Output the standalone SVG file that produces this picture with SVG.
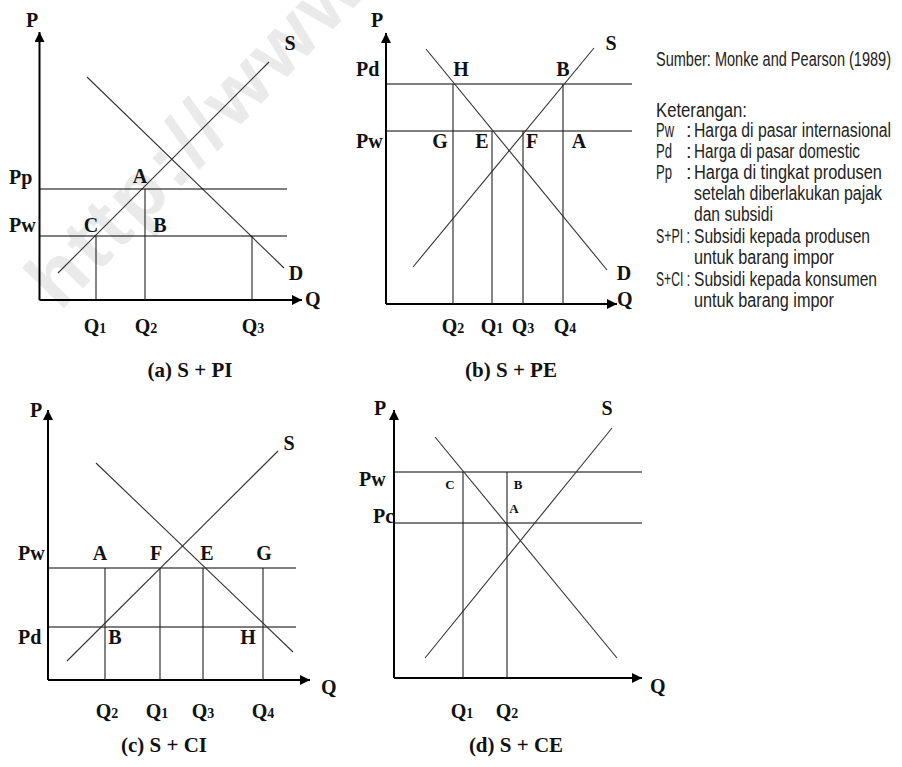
<svg xmlns="http://www.w3.org/2000/svg" width="902" height="767" viewBox="0 0 902 767">
<style>
.t{font-family:"Liberation Serif","Times New Roman",serif;font-weight:bold;font-size:20px;fill:#111}
.sub{font-size:14px}
.cap{font-size:21px}
.sm{font-size:13px}
.lg{font-family:"Liberation Sans",Arial,sans-serif;font-size:20px;fill:#222}
.ax{stroke:#000;stroke-width:2;fill:none}
.cv{stroke:#333;stroke-width:1.1;fill:none}
.hl{stroke:#000;stroke-width:1.2;fill:none}
.vl{stroke:#222;stroke-width:1.1;fill:none}
.wm{font-family:"Liberation Sans",Arial,sans-serif;font-weight:bold;font-size:80px;fill:#eaeaea;letter-spacing:4px}
</style>
<defs>
<marker id="arr" markerUnits="userSpaceOnUse" viewBox="0 0 10 10" refX="10" refY="5" markerWidth="11" markerHeight="10" orient="auto">
<path d="M0,0 L10,5 L0,10 z" fill="#000"/>
</marker>
</defs>
<rect width="902" height="767" fill="#fff"/>
<text class="wm" x="0" y="0" transform="translate(60,312) rotate(-46)">http://www</text>

<g id="panel-a">
<g id="a-connectors">
<path class="ax" d="M39.5,300 V32" marker-end="url(#arr)"/>
<path class="ax" d="M39.5,300 H302" marker-end="url(#arr)"/>
<path class="cv" d="M58,273 L269,62"/>
<path class="cv" d="M87,77 L284,268"/>
<path class="hl" d="M39.5,189 H287 M39.5,236 H287"/>
<path class="vl" d="M96,236 V300 M145,189 V300" stroke="#555"/>
<path class="vl" d="M252,236 V300"/>
</g>
<text class="t" x="32" y="27" text-anchor="middle">P</text>
<text class="t" x="290" y="50" text-anchor="middle">S</text>
<text class="t" x="296" y="280" text-anchor="middle">D</text>
<text class="t" x="305" y="306">Q</text>
<text class="t" x="9" y="184">Pp</text>
<text class="t" x="9" y="232">Pw</text>
<text class="t" x="140" y="183" text-anchor="middle">A</text>
<text class="t" x="91" y="232" text-anchor="middle">C</text>
<text class="t" x="160" y="232" text-anchor="middle">B</text>
<text class="t" x="95" y="333" text-anchor="middle">Q<tspan class="sub">1</tspan></text>
<text class="t" x="146" y="333" text-anchor="middle">Q<tspan class="sub">2</tspan></text>
<text class="t" x="253" y="333" text-anchor="middle">Q<tspan class="sub">3</tspan></text>
<text class="t cap" x="190" y="377" text-anchor="middle">(a) S + PI</text>
</g>

<g id="panel-b">
<g id="b-connectors">
<path class="ax" d="M386,304 V33" marker-end="url(#arr)"/>
<path class="ax" d="M386,304 H617" marker-end="url(#arr)"/>
<path class="hl" d="M386,84 H632 M386,131 H632"/>
<path class="cv" d="M413,267 L594,48"/>
<path class="cv" d="M426,49 L607,270"/>
<path class="vl" d="M453,84 V304 M492,131 V304 M523,131 V304 M563,84 V304"/>
</g>
<text class="t" x="377" y="27" text-anchor="middle">P</text>
<text class="t" x="356" y="76">Pd</text>
<text class="t" x="356" y="148">Pw</text>
<text class="t" x="461" y="76" text-anchor="middle">H</text>
<text class="t" x="563" y="76" text-anchor="middle">B</text>
<text class="t" x="440" y="148" text-anchor="middle">G</text>
<text class="t" x="482" y="148" text-anchor="middle">E</text>
<text class="t" x="532" y="148" text-anchor="middle">F</text>
<text class="t" x="579" y="148" text-anchor="middle">A</text>
<text class="t" x="611" y="50" text-anchor="middle">S</text>
<text class="t" x="624" y="280" text-anchor="middle">D</text>
<text class="t" x="617" y="306">Q</text>
<text class="t" x="453" y="333" text-anchor="middle">Q<tspan class="sub">2</tspan></text>
<text class="t" x="492" y="333" text-anchor="middle">Q<tspan class="sub">1</tspan></text>
<text class="t" x="523" y="333" text-anchor="middle">Q<tspan class="sub">3</tspan></text>
<text class="t" x="565" y="333" text-anchor="middle">Q<tspan class="sub">4</tspan></text>
<text class="t cap" x="511" y="377" text-anchor="middle">(b) S + PE</text>
</g>

<g id="legend">
<text class="lg" x="656" y="66" textLength="235" lengthAdjust="spacingAndGlyphs">Sumber: Monke and Pearson (1989)</text>
<text class="lg" x="656" y="117" textLength="91" lengthAdjust="spacingAndGlyphs">Keterangan:</text>
<text class="lg" x="656" y="137" textLength="18" lengthAdjust="spacingAndGlyphs">Pw</text>
<text class="lg" x="686" y="137">:</text>
<text class="lg" x="694" y="137" textLength="197" lengthAdjust="spacingAndGlyphs">Harga di pasar internasional</text>
<text class="lg" x="656" y="158" textLength="16" lengthAdjust="spacingAndGlyphs">Pd</text>
<text class="lg" x="686" y="158">:</text>
<text class="lg" x="694" y="158" textLength="166" lengthAdjust="spacingAndGlyphs">Harga di pasar domestic</text>
<text class="lg" x="656" y="179" textLength="16" lengthAdjust="spacingAndGlyphs">Pp</text>
<text class="lg" x="686" y="179">:</text>
<text class="lg" x="694" y="179" textLength="188" lengthAdjust="spacingAndGlyphs">Harga di tingkat produsen</text>
<text class="lg" x="694" y="200" textLength="188" lengthAdjust="spacingAndGlyphs">setelah diberlakukan pajak</text>
<text class="lg" x="694" y="221" textLength="79" lengthAdjust="spacingAndGlyphs">dan subsidi</text>
<text class="lg" x="656" y="243" textLength="34" lengthAdjust="spacingAndGlyphs">S+PI :</text>
<text class="lg" x="694" y="243" textLength="176" lengthAdjust="spacingAndGlyphs">Subsidi kepada produsen</text>
<text class="lg" x="694" y="264" textLength="140" lengthAdjust="spacingAndGlyphs">untuk barang impor</text>
<text class="lg" x="656" y="286" textLength="34" lengthAdjust="spacingAndGlyphs">S+CI :</text>
<text class="lg" x="694" y="286" textLength="183" lengthAdjust="spacingAndGlyphs">Subsidi kepada konsumen</text>
<text class="lg" x="694" y="307" textLength="140" lengthAdjust="spacingAndGlyphs">untuk barang impor</text>
</g>

<g id="panel-c">
<g id="c-connectors">
<path class="ax" d="M48,680 V410" marker-end="url(#arr)"/>
<path class="ax" d="M48,680 H310" marker-end="url(#arr)"/>
<path class="hl" d="M48,568 H296 M48,627 H296"/>
<path class="cv" d="M67,661 L278,451"/>
<path class="cv" d="M96,463 L293,652"/>
<path class="vl" d="M105,568 V680 M160,568 V680 M203,568 V680 M263,568 V680"/>
</g>
<text class="t" x="36" y="417" text-anchor="middle">P</text>
<text class="t" x="289" y="450" text-anchor="middle">S</text>
<text class="t" x="321" y="694">Q</text>
<text class="t" x="18" y="560">Pw</text>
<text class="t" x="18" y="644">Pd</text>
<text class="t" x="100" y="560" text-anchor="middle">A</text>
<text class="t" x="156" y="560" text-anchor="middle">F</text>
<text class="t" x="207" y="560" text-anchor="middle">E</text>
<text class="t" x="264" y="560" text-anchor="middle">G</text>
<text class="t" x="115" y="644" text-anchor="middle">B</text>
<text class="t" x="248" y="644" text-anchor="middle">H</text>
<text class="t" x="107" y="718" text-anchor="middle">Q<tspan class="sub">2</tspan></text>
<text class="t" x="157" y="718" text-anchor="middle">Q<tspan class="sub">1</tspan></text>
<text class="t" x="203" y="718" text-anchor="middle">Q<tspan class="sub">3</tspan></text>
<text class="t" x="263" y="718" text-anchor="middle">Q<tspan class="sub">4</tspan></text>
<text class="t cap" x="164" y="752" text-anchor="middle">(c) S + CI</text>
</g>

<g id="panel-d">
<g id="d-connectors">
<path class="ax" d="M394,678 V410" marker-end="url(#arr)"/>
<path class="ax" d="M394,678 H642" marker-end="url(#arr)"/>
<path class="hl" d="M394,472 H642 M394,523 H642"/>
<path class="cv" d="M425,658 L612,428"/>
<path class="cv" d="M435,437 L617,658"/>
<path class="vl" d="M463,472 V678 M507,472 V678"/>
</g>
<text class="t" x="380" y="415" text-anchor="middle">P</text>
<text class="t" x="607" y="415" text-anchor="middle">S</text>
<text class="t" x="650" y="693">Q</text>
<text class="t" x="359" y="486">Pw</text>
<text class="t" x="373" y="523">Pc</text>
<text class="t sm" x="450" y="489" text-anchor="middle">C</text>
<text class="t sm" x="518" y="489" text-anchor="middle">B</text>
<text class="t sm" x="514" y="513" text-anchor="middle">A</text>
<text class="t" x="462" y="718" text-anchor="middle">Q<tspan class="sub">1</tspan></text>
<text class="t" x="507" y="718" text-anchor="middle">Q<tspan class="sub">2</tspan></text>
<text class="t cap" x="516" y="752" text-anchor="middle">(d) S + CE</text>
</g>
</svg>
